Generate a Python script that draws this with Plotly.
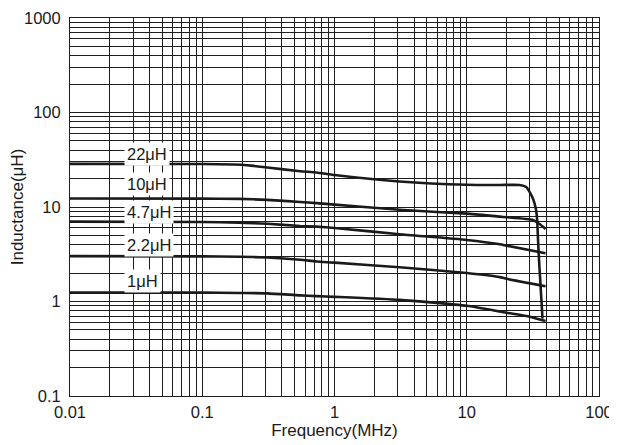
import math
import plotly.graph_objects as go

# ---- data ----
freq_22 = [0.01, 0.1, 0.2, 0.31, 0.55, 0.73, 1.0, 3.1, 10, 17.8, 25, 28.3, 30, 31.7, 33.3, 34.0, 34.9, 36.1, 37.4]
ind_22 = [28.6, 28.5, 28.0, 26.2, 23.9, 23.2, 21.8, 18.6, 17.2, 17.1, 17.1, 16.2, 14.3, 12.2, 9.6, 7.6, 3.4, 1.52, 0.66]

freq_10 = [0.01, 0.1, 0.19, 0.31, 0.55, 0.73, 1.0, 3.1, 10, 17.8, 20, 31.7, 35.5, 39.4]
ind_10 = [12.3, 12.25, 12.2, 11.9, 11.3, 11.0, 10.6, 9.35, 8.5, 7.9, 7.8, 7.3, 6.6, 5.85]

freq_47 = [0.01, 0.1, 0.19, 0.31, 0.55, 0.73, 1.0, 3.1, 10, 17.8, 20, 39.4]
ind_47 = [7.0, 6.95, 6.84, 6.64, 6.3, 6.2, 6.0, 5.15, 4.48, 4.03, 3.9, 3.24]

freq_22b = [0.01, 0.1, 0.19, 0.31, 0.55, 0.73, 1.0, 3.1, 10, 17.8, 20, 39.4]
ind_22b = [3.02, 3.0, 2.98, 2.92, 2.77, 2.65, 2.58, 2.3, 2.0, 1.81, 1.74, 1.45]

freq_1 = [0.01, 0.1, 0.19, 0.31, 0.55, 0.73, 1.0, 3.1, 10, 20, 30, 39.4]
ind_1 = [1.24, 1.24, 1.23, 1.22, 1.16, 1.14, 1.12, 1.04, 0.9, 0.76, 0.69, 0.62]

series = [
    ("22μH", freq_22, ind_22),
    ("10μH", freq_10, ind_10),
    ("4.7μH", freq_47, ind_47),
    ("2.2μH", freq_22b, ind_22b),
    ("1μH", freq_1, ind_1),
]

label_names = ["22μH", "10μH", "4.7μH", "2.2μH", "1μH"]
label_freq = 0.0258
label_vals = [36.5, 17.5, 8.9, 4.0, 1.64]

x_ticks = [0.01, 0.1, 1, 10, 100]
x_ticktext = ["0.01", "0.1", "1", "10", "100"]
y_ticks = [0.1, 1, 10, 100, 1000]
y_ticktext = ["0.1", "1", "10", "100", "1000"]

FONT = "Liberation Sans, Arial, Helvetica, Noto Sans CJK JP, sans-serif"
GRID = "#1e1e1e"

fig = go.Figure()
for name, f, v in series:
    fig.add_trace(go.Scatter(x=f, y=v, mode="lines", name=name,
                             line=dict(color="#1a1a1a", width=2.6,
                                       shape="spline", smoothing=0.5),
                             showlegend=False, hoverinfo="skip"))

for name, yv in zip(label_names, label_vals):
    fig.add_annotation(x=math.log10(label_freq), y=math.log10(yv), text=name,
                       xref="x", yref="y", xanchor="left", yanchor="middle",
                       showarrow=False, bgcolor="white", borderpad=2,
                       font=dict(family=FONT, size=16.5, color="#1a1a1a"))

axis_common = dict(
    type="log", showgrid=True, gridcolor=GRID, gridwidth=1,
    showline=True, linecolor=GRID, linewidth=1, mirror=True,
    ticks="", zeroline=False, automargin=False, ticklabeloverflow="allow",
    tickfont=dict(family=FONT, size=16.5, color="#1a1a1a"),
    minor=dict(dtick="D1", showgrid=True, gridcolor=GRID, gridwidth=1, ticks=""),
)

fig.update_xaxes(range=[-2, 2], tickvals=x_ticks, ticktext=x_ticktext,
                 ticklabelstandoff=1,
                 title=dict(text="Frequency(MHz)", standoff=2,
                            font=dict(family=FONT, size=17, color="#1a1a1a")),
                 **axis_common)
fig.update_yaxes(range=[-1, 3], tickvals=y_ticks, ticktext=y_ticktext,
                 ticklabelstandoff=5,
                 title=dict(text="Inductance(μH)",
                            font=dict(family=FONT, size=17, color="#1a1a1a")),
                 **axis_common)

fig.update_layout(
    width=617, height=445,
    margin=dict(l=62, r=26, t=10, b=57),
    paper_bgcolor="white", plot_bgcolor="white",
    font=dict(family=FONT, color="#1a1a1a"),
)

fig.write_html("out.html")
